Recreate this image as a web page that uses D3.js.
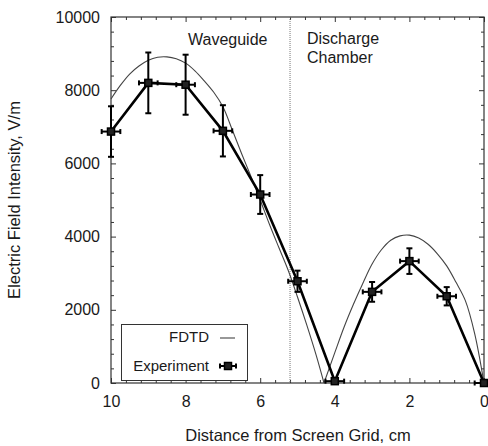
<!DOCTYPE html>
<html>
<head>
<meta charset="utf-8">
<script src="https://cdn.jsdelivr.net/npm/d3@7"></script>
<style>
  body { margin: 0; background: #fff; }
  text { font-family: 'Liberation Sans', Arial, sans-serif; fill: #1a1a1a; }
</style>
</head>
<body>
<div class="chart"></div>
<script>
// Experiment points (distance cm, field V/m, errors)
const expX = [10, 9, 8, 7, 6, 5, 4, 3, 2, 1, 0];
const expY = [6870, 8200, 8150, 6890, 5150, 2780, 50, 2490, 3330, 2370, 0];
const expErrY = [690, 830, 820, 700, 530, 290, 60, 270, 350, 250, 0];
const expErrX = [0.25, 0.25, 0.25, 0.25, 0.25, 0.25, 0.25, 0.25, 0.25, 0.25, 0.25];

// FDTD curve, waveguide hump and discharge chamber hump
const fdtdWaveX = [10, 9.75, 9.5, 9.25, 9, 8.75, 8.5, 8.25, 8, 7.75, 7.5, 7.25, 7, 6.75, 6.5, 6.25, 6, 5.75, 5.5, 5.25, 5, 4.75, 4.5, 4.29];
const fdtdWaveY = [7760, 8130, 8440, 8660, 8820, 8900, 8910, 8860, 8740, 8530, 8256, 7950, 7548, 6920, 6270, 5650, 5000, 4330, 3700, 3080, 2350, 1580, 760, 0];
const fdtdChamberX = [4.29, 4, 3.75, 3.5, 3.25, 3, 2.75, 2.5, 2.25, 2, 1.75, 1.5, 1.25, 1, 0.75, 0.5, 0.25, 0];
const fdtdChamberY = [0, 830, 1530, 2150, 2720, 3250, 3640, 3900, 4020, 4040, 3960, 3790, 3530, 3200, 2750, 2250, 1350, 0];

// ticks
const xMajor = [10, 8, 6, 4, 2, 0];
const xMinor = [9.6, 9.2, 8.8, 8.4, 7.6, 7.2, 6.8, 6.4, 5.6, 5.2, 4.8, 4.4, 3.6, 3.2, 2.8, 2.4, 1.6, 1.2, 0.8, 0.4];
const yMajor = [0, 2000, 4000, 6000, 8000, 10000];
const yMinor = [400, 800, 1200, 1600, 2400, 2800, 3200, 3600, 4400, 4800, 5200, 5600, 6400, 6800, 7200, 7600, 8400, 8800, 9200, 9600];

const boundary = 5.2; // waveguide / chamber border

let width = 488, height = 446;
let plot = { left: 111, right: 484, top: 17, bottom: 383 };

let svg = d3.select('.chart').append('svg')
    .attr('width', width)
    .attr('height', height);

let x = d3.scaleLinear().domain([10, 0]).range([plot.left, plot.right]);
let y = d3.scaleLinear().domain([0, 10000]).range([plot.bottom, plot.top]);

// axes with inward ticks on all sides
function addAxis(axis, tx, ty, vals, size, labels) {
    let g = svg.append('g')
        .attr('transform', 'translate(' + tx + ',' + ty + ')')
        .call(axis.tickValues(vals).tickSize(size).tickFormat(labels ? d3.format('d') : ''));
    g.select('.domain').remove();
    g.selectAll('line').attr('stroke', '#333').attr('stroke-width', 1);
    g.selectAll('text').style('font-size', '16px').attr('fill', '#1a1a1a');
    return g;
}
addAxis(d3.axisBottom(x).tickPadding(13), 0, plot.bottom, xMajor, -5, true);
addAxis(d3.axisBottom(x), 0, plot.bottom, xMinor, -3, false);
addAxis(d3.axisTop(x), 0, plot.top, xMajor, -5, false);
addAxis(d3.axisTop(x), 0, plot.top, xMinor, -3, false);
addAxis(d3.axisLeft(y).tickPadding(11), plot.left, 0, yMajor, -5, true);
addAxis(d3.axisLeft(y), plot.left, 0, yMinor, -3, false);
addAxis(d3.axisRight(y), plot.right, 0, yMajor, -5, false);
addAxis(d3.axisRight(y), plot.right, 0, yMinor, -3, false);

// frame
svg.append('rect')
    .attr('x', plot.left).attr('y', plot.top)
    .attr('width', plot.right - plot.left)
    .attr('height', plot.bottom - plot.top)
    .attr('fill', 'none')
    .attr('stroke', '#333')
    .attr('stroke-width', 1.2);

// boundary line
svg.append('line')
    .attr('x1', x(boundary)).attr('x2', x(boundary))
    .attr('y1', plot.top).attr('y2', plot.bottom)
    .attr('stroke', '#777')
    .attr('stroke-width', 1)
    .attr('stroke-dasharray', '1,1');

// region labels
svg.append('text').attr('x', 188).attr('y', 45).style('font-size', '16px').text('Waveguide');
svg.append('text').attr('x', 307).attr('y', 44).style('font-size', '16px').text('Discharge');
svg.append('text').attr('x', 307).attr('y', 63).style('font-size', '16px').text('Chamber');

// FDTD curve
let fdtdLine = d3.line()
    .x(d => x(d[0]))
    .y(d => y(d[1]))
    .curve(d3.curveCatmullRom);
[[fdtdWaveX, fdtdWaveY], [fdtdChamberX, fdtdChamberY]].forEach(function (s) {
    svg.append('path')
        .datum(d3.zip(s[0], s[1]))
        .attr('d', fdtdLine)
        .attr('fill', 'none')
        .attr('stroke', '#444')
        .attr('stroke-width', 1.1);
});

// experiment
let exp = expX.map((v, i) => ({ x: v, y: expY[i], ey: expErrY[i], ex: expErrX[i] }));

svg.append('path')
    .datum(exp)
    .attr('d', d3.line().x(d => x(d.x)).y(d => y(d.y)))
    .attr('fill', 'none')
    .attr('stroke', '#000')
    .attr('stroke-width', 2.6);

function drawMarker(g, px, py, d) {
    let ex = d ? x(d.x - d.ex) - x(d.x) : 8;
    let ey = d ? y(d.y - d.ey) - y(d.y) : 0;
    g.append('line').attr('x1', px - ex).attr('x2', px + ex).attr('y1', py).attr('y2', py);
    g.append('line').attr('x1', px - ex).attr('x2', px - ex).attr('y1', py - 2.5).attr('y2', py + 2.5);
    g.append('line').attr('x1', px + ex).attr('x2', px + ex).attr('y1', py - 2.5).attr('y2', py + 2.5);
    if (ey > 0.5) {
        g.append('line').attr('x1', px).attr('x2', px).attr('y1', py - ey).attr('y2', py + ey);
        g.append('line').attr('x1', px - 3).attr('x2', px + 3).attr('y1', py - ey).attr('y2', py - ey);
        g.append('line').attr('x1', px - 3).attr('x2', px + 3).attr('y1', py + ey).attr('y2', py + ey);
    }
    g.selectAll('line').attr('stroke', '#000').attr('stroke-width', 2);
    g.append('rect')
        .attr('x', px - 3.5).attr('y', py - 3.5)
        .attr('width', 7).attr('height', 7)
        .attr('fill', '#222')
        .attr('stroke', '#000')
        .attr('stroke-width', 1.5);
}
exp.forEach(function (d) {
    drawMarker(svg.append('g'), x(d.x), y(d.y), d);
});

// legend
let lg = svg.append('g');
lg.append('rect')
    .attr('x', 121.5).attr('y', 324.5)
    .attr('width', 126).attr('height', 56)
    .attr('fill', '#fff')
    .attr('stroke', '#333')
    .attr('stroke-width', 1);
lg.append('text').attr('x', 209).attr('y', 342).attr('text-anchor', 'end').style('font-size', '15px').text('FDTD');
lg.append('line').attr('x1', 220).attr('x2', 235).attr('y1', 338).attr('y2', 338).attr('stroke', '#444').attr('stroke-width', 1.1);
lg.append('text').attr('x', 209).attr('y', 371).attr('text-anchor', 'end').style('font-size', '15px').text('Experiment');
drawMarker(lg.append('g'), 228, 366, null);

// axis titles
svg.append('text')
    .attr('text-anchor', 'middle')
    .attr('transform', 'translate(298,441)')
    .style('font-size', '16.5px')
    .text('Distance from Screen Grid, cm');

svg.append('text')
    .attr('text-anchor', 'middle')
    .attr('transform', 'translate(20,200)rotate(-90)')
    .style('font-size', '16.5px')
    .text('Electric Field Intensity, V/m');
</script>
</body>
</html>
